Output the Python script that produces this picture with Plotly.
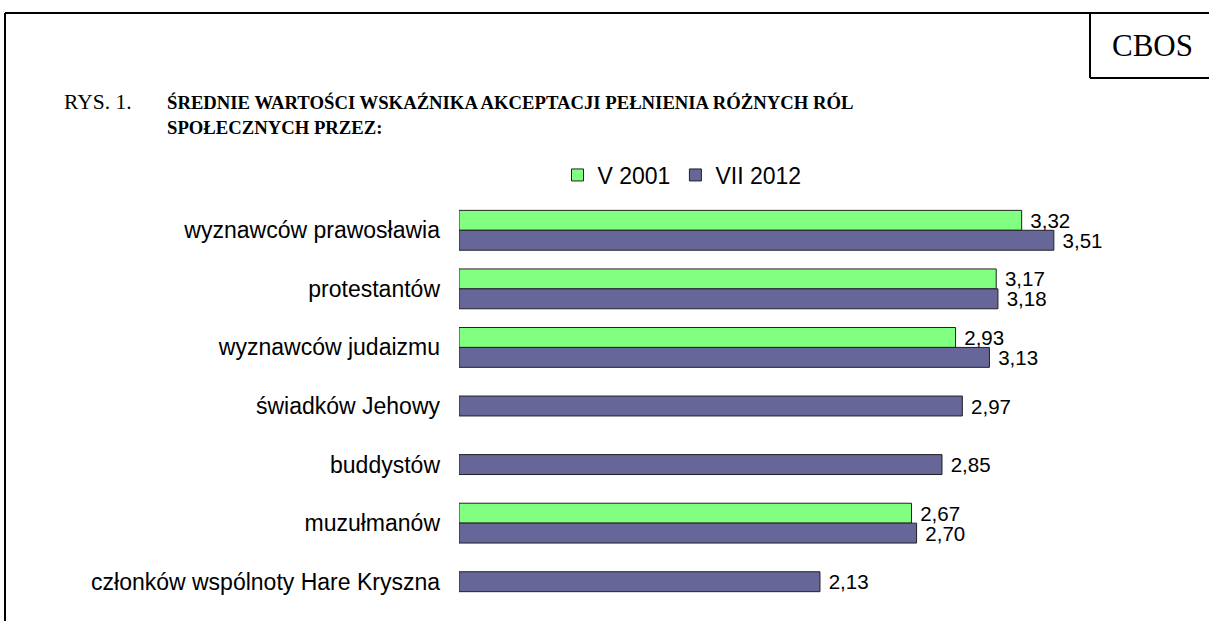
import plotly.graph_objects as go

categories = ["wyznawców prawosławia", "protestantów", "wyznawców judaizmu",
              "świadków Jehowy", "buddystów", "muzułmanów",
              "członków wspólnoty Hare Kryszna"]
v2001 = [3.32, 3.17, 2.93, None, None, 2.67, None]
v2012 = [3.51, 3.18, 3.13, 2.97, 2.85, 2.70, 2.13]
series_names = ["V 2001", "VII 2012"]

W, H = 1209, 621
ML, MR, MT, MB = 459, 106, 201, 10
PW, PH = W - ML - MR, H - MT - MB

def px(x):
    return (x - ML) / PW

def py(y):
    return (H - MB - y) / PH

bw = 0.34
SANS = "Liberation Sans, Arial, sans-serif"
SERIF = "Liberation Serif, Times New Roman, serif"
FS = 23
FV = 20.5

fig = go.Figure()
fig.add_trace(go.Bar(
    y=categories, x=v2001, orientation="h", name=series_names[0],
    marker=dict(color="#80FF80", line=dict(color="#222222", width=1)),
    offset=-bw, width=bw,
    texttemplate="\u00a0%{x:.2f}", textposition="outside", constraintext="none",
    textfont=dict(family=SANS, size=FV, color="black"), cliponaxis=False,
))
fig.add_trace(go.Bar(
    y=categories, x=v2012, orientation="h", name=series_names[1],
    marker=dict(color="#666699", line=dict(color="#222222", width=1)),
    offset=[0 if g is not None else -bw / 2 for g in v2001], width=bw,
    texttemplate="\u00a0%{x:.2f}", textposition="outside", constraintext="none",
    textfont=dict(family=SANS, size=FV, color="black"), cliponaxis=False,
))

fig.update_layout(
    width=W, height=H, margin=dict(l=ML, r=MR, t=MT, b=MB, autoexpand=False),
    paper_bgcolor="white", plot_bgcolor="white",
    barmode="overlay", separators=", ",
    font=dict(family=SANS, size=FS, color="black"),
    showlegend=True,
    legend=dict(orientation="h", xref="container", yref="container",
                x=682 / W, y=1 - 175 / H, xanchor="center", yanchor="middle",
                font=dict(family=SANS, size=FS), traceorder="normal",
                itemwidth=30, bgcolor="rgba(0,0,0,0)"),
    xaxis=dict(range=[0, 3.8], visible=False, fixedrange=True),
    yaxis=dict(categoryorder="array", categoryarray=categories,
               range=[len(categories) - 0.5, -0.5], showgrid=False,
               showline=False, zeroline=False, ticks="",
               ticklabelstandoff=18, fixedrange=True,
               tickfont=dict(family=SANS, size=FS, color="black")),
)

# frame lines
line = dict(color="black", width=2)
fig.add_shape(type="line", xref="paper", yref="paper",
              x0=px(5), x1=px(W), y0=py(13), y1=py(13), line=line)
fig.add_shape(type="line", xref="paper", yref="paper",
              x0=px(5), x1=px(5), y0=py(13), y1=py(H + 2), line=line)
fig.add_shape(type="line", xref="paper", yref="paper",
              x0=px(1090), x1=px(1090), y0=py(13), y1=py(78), line=line)
fig.add_shape(type="line", xref="paper", yref="paper",
              x0=px(1090), x1=px(W), y0=py(78), y1=py(78), line=line)

fig.add_annotation(xref="paper", yref="paper", x=px(1152), y=py(45),
                   text="CBOS", showarrow=False, xanchor="center", yanchor="middle",
                   font=dict(family=SERIF, size=31, color="black"))
fig.add_annotation(xref="paper", yref="paper", x=px(62), y=py(102),
                   text="RYS. 1.", showarrow=False, xanchor="left", yanchor="middle",
                   font=dict(family=SERIF, size=21.5, color="black"))
fig.add_annotation(xref="paper", yref="paper", x=px(165), y=py(102),
                   text="<b>ŚREDNIE WARTOŚCI WSKAŹNIKA AKCEPTACJI PEŁNIENIA RÓŻNYCH RÓL</b>",
                   showarrow=False, xanchor="left", yanchor="middle",
                   font=dict(family=SERIF, size=18.7, color="black"))
fig.add_annotation(xref="paper", yref="paper", x=px(165), y=py(127),
                   text="<b>SPOŁECZNYCH PRZEZ:</b>",
                   showarrow=False, xanchor="left", yanchor="middle",
                   font=dict(family=SERIF, size=18.7, color="black"))

fig.write_html("out.html", config={"displayModeBar": False},
               post_script="document.body.style.margin='0px';document.body.style.padding='0px';")
